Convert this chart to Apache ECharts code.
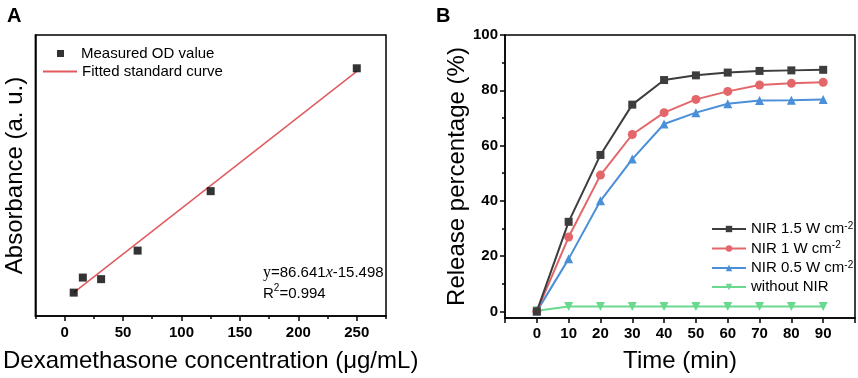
<!DOCTYPE html>
<html>
<head>
<meta charset="utf-8">
<script src="https://cdn.jsdelivr.net/npm/echarts@6/dist/echarts.min.js"></script>
<style>
  html, body { margin: 0; padding: 0; background: #fff; }
  #main { width: 858px; height: 378px; }
</style>
</head>
<body>
<div id="main"></div>
<script>
// Panel A: standard curve
const concA = [7.8, 15.6, 31.25, 62.5, 125, 250];
const absA = [0.27, 0.46, 0.44, 0.80, 1.55, 3.10];
const fitLine = [[7.8, 0.27], [250, 3.06]];
const ticksA = [0, 50, 100, 150, 200, 250];
const minorTicksA = [-25, 25, 75, 125, 175, 225, 275];

// Panel B: release curves
const timeB = [0, 10, 20, 30, 40, 50, 60, 70, 80, 90];
const nir15 = [0, 32.4, 56.6, 74.8, 83.7, 85.4, 86.4, 87.0, 87.2, 87.4];
const nir10 = [0, 26.9, 49.3, 64.0, 71.9, 76.7, 79.6, 81.9, 82.5, 82.9];
const nir05 = [0, 19.0, 40.0, 55.1, 67.8, 71.9, 75.1, 76.3, 76.4, 76.7];
const noNir = [0.2, 1.8, 1.8, 1.8, 1.8, 1.8, 1.8, 1.8, 1.8, 1.8];
const ticksB = [0, 20, 40, 60, 80, 100];
const minorTicksB = [10, 30, 50, 70, 90];

const font = "'Liberation Sans', Arial, sans-serif";
const serif = "'Liberation Serif', 'Times New Roman', serif";

function pairs(xs, ys) {
  return xs.map((x, i) => [x, ys[i]]);
}

let chart = echarts.init(document.getElementById("main"), null, { renderer: "canvas" });

let tickLabel = { fontFamily: font, fontWeight: "bold", fontSize: 15, color: "#000" };
let axisLine = { show: true, onZero: false, lineStyle: { color: "#000", width: 1.5 } };

let option = {
  animation: false,
  textStyle: { fontFamily: font },
  title: [
    { text: "A", left: 2, top: 1, textStyle: { fontFamily: font, fontWeight: "bold", fontSize: 20, color: "#000" } },
    { text: "B", left: 431, top: 1, textStyle: { fontFamily: font, fontWeight: "bold", fontSize: 20, color: "#000" } },
  ],
  grid: [
    { left: 35, top: 35, width: 351, height: 281, show: true, borderColor: "#000", borderWidth: 1.5, backgroundColor: "transparent" },
    { left: 505, top: 35, width: 350, height: 283, show: true, borderColor: "#000", borderWidth: 1.5, backgroundColor: "transparent" },
  ],
  legend: [
    {
      data: [{ name: "Measured OD value", icon: "rect" }],
      left: 57, top: 46, orient: "vertical", padding: 0,
      itemWidth: 7, itemHeight: 7,
      textStyle: { fontFamily: font, fontSize: 15, color: "#000", padding: [0, 0, 0, 12] },
    },
    {
      data: [{ name: "Fitted standard curve", icon: "rect" }],
      left: 43, top: 64, orient: "vertical", padding: 0,
      itemWidth: 34, itemHeight: 2,
      textStyle: { fontFamily: font, fontSize: 15, color: "#000" },
    },
    {
      data: ["NIR 1.5 W cm-2", "NIR 1 W cm-2", "NIR 0.5 W cm-2", "without NIR"],
      left: 711, top: 221, orient: "vertical", padding: 0,
      itemWidth: 34, itemHeight: 8, itemGap: 4,
      formatter: (name) => name.replace("cm-2", "cm{sup|-2}"),
      textStyle: {
        fontFamily: font, fontSize: 15, color: "#000",
        rich: { sup: { fontFamily: font, fontSize: 10, color: "#000", verticalAlign: "top", padding: [0, 0, 6, 0] } },
      },
    },
  ],
  xAxis: [
    {
      gridIndex: 0, type: "value", min: -25, max: 275,
      name: "Dexamethasone concentration (μg/mL)", nameLocation: "middle", nameGap: 33,
      nameTextStyle: { fontFamily: font, fontSize: 24, color: "#000" },
      axisLine: axisLine,
      axisTick: { show: true, customValues: ticksA, length: 5, lineStyle: { color: "#000", width: 1.5 } },
      axisLabel: Object.assign({ customValues: ticksA, margin: 9 }, tickLabel),
      splitLine: { show: false },
    },
    {
      gridIndex: 0, type: "value", min: -25, max: 275, position: "bottom",
      axisLine: { show: false, onZero: false },
      axisTick: { show: true, customValues: minorTicksA, length: 3, lineStyle: { color: "#000", width: 1.5 } },
      axisLabel: { show: false },
      splitLine: { show: false },
    },
    {
      gridIndex: 1, type: "value", min: -10, max: 100, interval: 10,
      name: "Time (min)", nameLocation: "middle", nameGap: 31,
      nameTextStyle: { fontFamily: font, fontSize: 24, color: "#000" },
      axisLine: axisLine,
      axisTick: { show: true, length: 5, lineStyle: { color: "#000", width: 1.5 } },
      axisLabel: Object.assign({
        margin: 8,
        formatter: (v) => (v < 0 || v > 90 ? "" : String(v)),
      }, tickLabel),
      splitLine: { show: false },
    },
  ],
  yAxis: [
    {
      gridIndex: 0, type: "value", min: -0.025, max: 3.52,
      name: "Absorbance (a. u.)", nameLocation: "middle", nameGap: 8,
      nameTextStyle: { fontFamily: font, fontSize: 24, color: "#000" },
      axisLine: axisLine,
      axisTick: { show: false },
      axisLabel: { show: false },
      splitLine: { show: false },
    },
    {
      gridIndex: 1, type: "value", min: -2.4, max: 100, position: "left",
      name: "Release percentage (%)", nameLocation: "middle", nameGap: 36,
      nameTextStyle: { fontFamily: font, fontSize: 24, color: "#000" },
      axisLine: axisLine,
      axisTick: { show: true, customValues: ticksB, length: 5, lineStyle: { color: "#000", width: 1.5 } },
      axisLabel: Object.assign({ customValues: ticksB, margin: 7 }, tickLabel),
      splitLine: { show: false },
    },
    {
      gridIndex: 1, type: "value", min: -2.4, max: 100, position: "left",
      axisLine: { show: false, onZero: false },
      axisTick: { show: true, customValues: minorTicksB, length: 3, lineStyle: { color: "#000", width: 1.5 } },
      axisLabel: { show: false },
      splitLine: { show: false },
    },
  ],
  graphic: [
    {
      type: "text", left: 263, top: 262,
      style: {
        text: "{s|y}=86.641{i|x}-15.498\nR{sup|2}=0.994",
        fontFamily: font, fontSize: 15, fill: "#000", lineHeight: 21,
        rich: {
          s: { fontFamily: serif, fontSize: 16, fill: "#000" },
          i: { fontFamily: serif, fontStyle: "italic", fontSize: 16, fill: "#000" },
          sup: { fontFamily: font, fontSize: 10, fill: "#000", verticalAlign: "top", padding: [0, 0, 6, 0] },
        },
      },
    },
  ],
  series: [
    {
      name: "Fitted standard curve", type: "line", xAxisIndex: 0, yAxisIndex: 0,
      data: fitLine, symbol: "none",
      lineStyle: { color: "#e05a5e", width: 1.5 },
      itemStyle: { color: "#e05a5e" },
      z: 2,
    },
    {
      name: "Measured OD value", type: "scatter", xAxisIndex: 0, yAxisIndex: 0,
      data: pairs(concA, absA), symbol: "rect", symbolSize: 8,
      itemStyle: { color: "#000" },
      z: 3,
    },
    {
      name: "NIR 1.5 W cm-2", type: "line", xAxisIndex: 2, yAxisIndex: 1,
      data: pairs(timeB, nir15), symbol: "rect", symbolSize: 8,
      lineStyle: { color: "#3d3d3d", width: 2 }, itemStyle: { color: "#3d3d3d" },
      z: 5,
    },
    {
      name: "NIR 1 W cm-2", type: "line", xAxisIndex: 2, yAxisIndex: 1,
      data: pairs(timeB, nir10), symbol: "circle", symbolSize: 9,
      lineStyle: { color: "#e3676a", width: 2 }, itemStyle: { color: "#e3676a" },
      z: 4,
    },
    {
      name: "NIR 0.5 W cm-2", type: "line", xAxisIndex: 2, yAxisIndex: 1,
      data: pairs(timeB, nir05), symbol: "triangle", symbolSize: 9,
      lineStyle: { color: "#4b8fd8", width: 2 }, itemStyle: { color: "#4b8fd8" },
      z: 3,
    },
    {
      name: "without NIR", type: "line", xAxisIndex: 2, yAxisIndex: 1,
      data: pairs(timeB, noNir), symbol: "triangle", symbolRotate: 180, symbolSize: 9,
      lineStyle: { color: "#6ad98f", width: 2 }, itemStyle: { color: "#6ad98f" },
      z: 2,
    },
  ],
};

chart.setOption(option);
</script>
</body>
</html>
